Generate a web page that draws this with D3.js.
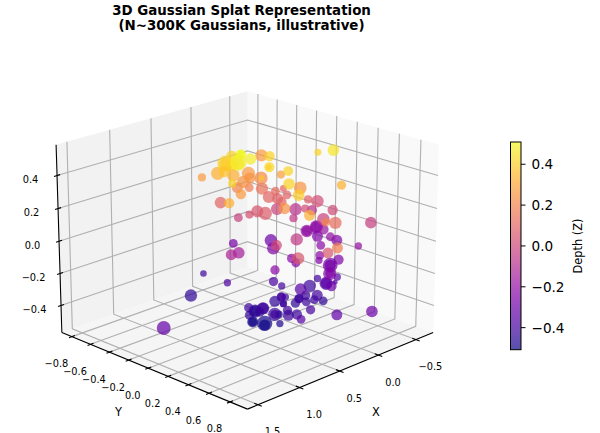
<!DOCTYPE html>
<html>
<head>
<meta charset="utf-8">
<script src="https://cdn.jsdelivr.net/npm/d3@7"></script>
<style>
  body { margin: 0; background: #fff; }
  text { font-family: "DejaVu Sans", sans-serif; fill: #000; }
</style>
</head>
<body>
<svg id="chart" width="600" height="433"></svg>
<script>
// gaussian centres
const xs = [.21,.43,.36,-.49,-.02,.54,.41,.34,.24,.08,.36,.45,.35,.30,-.03,-.01,.11,.76,-.18,.34,-.18,.17,.42,-.13,.51,
  -.50,-.23,.10,-.04,.43,.19,.86,.00,.02,-.03,.02,-.23,-.33,-.39,-.32,-.22,-.39,.37,-.73,-.49,-.44,.60,-.50,-.41,-.41,
  -.18,-.72,-.67,-.52,.22,-.08,-.79,-.82,-.74,-.95,-.82,-.05,-.62,-.86,-.78,-.91,.27,.44,-.22,.11,.23,.50,1.54,-.33,.34,
  .59,-.17,-.20,.15,-.09,-.12,-.78,.56,.31,-.61,-.41,-.40,-.54,-.47,-.22,-.50,-.39,-.49,-.31,-.15,-.36,-.04,-.18,-.16,-.06,
  .08,.00,.06,-.04,-.05,-.17,-.26,.13,.12,.05,.24,.48,.23,.22,.30,.12,.37,.33,.37,.34,.30,.42,.46,.42,.34,
  .43,.37,.34,.37,.30,.42,-.31,-.47,-.22,-.06,.08,-.74,-.95,.17,.33,.13];
const ys = [-.32,-.05,-.01,-.57,-.12,.01,-.22,-.21,.08,-.05,-.34,-.20,-.51,-.23,-.34,-.31,-.28,.13,-.33,.08,-.13,.21,.41,.10,.57,
  -.35,-.36,-.35,-.34,-.05,-.45,.18,-.42,-.29,-.25,-.13,-.29,-.30,-.23,-.27,-.15,-.33,.33,-.40,-.12,-.20,.74,-.10,.06,.21,
  .46,-.17,.02,.04,.61,.48,.31,-.30,-.29,-.35,-.18,.13,-.57,-.27,-.08,-.11,-.20,-.14,-.65,-.70,-.35,-.51,.09,-.32,.23,
  .63,-.01,.01,.07,-.13,-.07,.20,.97,.70,-.05,.09,.09,.18,.15,.33,.20,.26,.01,.23,.40,.03,.18,.24,.14,.15,
  .08,.06,.00,.13,.23,.22,.24,.14,.40,.93,.74,.58,.35,.25,.32,.09,.24,.26,.14,.10,-.01,.02,.06,.06,.07,
  -.05,.14,.10,.24,-.01,.06,.23,.15,.33,.15,.08,-.29,-.35,-.41,-.155,.14];
const zs = [.42,.51,.48,.27,.42,.49,.42,.40,.43,.38,.33,.38,.27,.33,.27,.25,.25,.42,.22,.38,.28,.42,.42,.25,.40,
  .10,.14,.20,.18,.27,.10,.33,-.02,.03,.05,.07,.10,.12,.10,.08,.10,-.01,.25,-.08,.02,-.05,.33,.08,.42,.46,
  .33,.02,.01,-.02,.20,.12,-.03,-.08,-.20,-.22,-.18,-.05,-.30,-.25,-.20,-.25,-.15,-.12,-.27,-.42,-.38,-.45,-.32,-.25,0,
  .05,-.22,-.25,-.22,-.38,-.40,-.20,.18,.05,-.22,-.22,-.25,-.25,-.28,-.25,-.35,-.35,-.40,-.35,-.30,-.42,-.35,-.40,-.42,-.42,
  -.40,-.42,-.45,-.45,-.42,-.43,-.45,-.42,-.40,-.30,-.33,-.35,-.42,-.42,-.42,-.50,-.42,-.48,-.50,-.42,-.47,-.42,-.45,-.50,-.45,
  .51,-.51,-.42,-.42,-.47,-.50,-.35,-.28,-.25,-.42,-.40,-.20,-.22,.34,.42,-.42];
const sizes = [22,22,27,31,22,56,53,25,22,7,36,25,14,32,36,25,32,14,36,7,14,20,28,34,28,
  10,31,25,16,22,28,22,16,14,30,36,30,16,16,25,18,30,27,32,14,14,25,14,10,28,
  18,32,22,32,14,32,28,22,32,36,22,32,32,25,16,25,28,25,16,9,11,32,40,32,25,
  32,18,16,18,18,11,11,25,25,16,16,11,22,45,36,11,5,11,36,22,32,28,25,18,18,
  18,11,25,18,16,16,16,11,18,28,25,16,22,18,25,11,36,11,49,32,36,18,18,25,18,
  16,25,25,16,25,16,25,25,16,16,14,20,25,36,30,10];

const xTicks = [-0.5, 0, 0.5, 1, 1.5];
const yTicks = [-0.8, -0.6, -0.4, -0.2, 0, 0.2, 0.4, 0.6, 0.8];
const zTicks = [-0.4, -0.2, 0, 0.2, 0.4];
const barTicks = [-0.4, -0.2, 0, 0.2, 0.4];

const xLim = [-0.735, 1.624];
const yLim = [-0.91, 0.964];
const zLim = [-0.57, 0.585];

const svg = d3.select('#chart');
const fmt = d => d3.format('.1f')(d).replace('-', '\u2212');

// box coordinates, same aspect as a matplotlib 3d axes
const bx = d3.scaleLinear().domain(xLim).range([-0.595, 0.595]);
const by = d3.scaleLinear().domain(yLim).range([-0.595, 0.595]);
const bz = d3.scaleLinear().domain(zLim).range([-0.446, 0.446]);
const screenX = d3.scaleLinear().domain([-0.1, 0.1]).range([23.5, 471.5]);
const screenY = d3.scaleLinear().domain([-0.1, 0.1]).range([464, 16]);

// camera at elev 20, azim 45, dist 10
function project(x, y, z) {
  const a = bx(x), b = by(y), c = bz(z);
  const xe = 0.7071 * (b - a);
  const ye = -0.2418 * (a + b) + 0.9397 * c;
  const dz = 10 - 0.6645 * (a + b) - 0.342 * c;
  return { px: screenX(xe / dz), py: screenY(ye / dz), depth: dz };
}

const [x0, x1] = xLim, [y0, y1] = yLim, [z0, z1] = zLim;
const line = d3.line().x(d => project(...d).px).y(d => project(...d).py);

// panes
const panes = [
  { fill: '#f9f9f9', pts: [[x0,y0,z0],[x0,y1,z0],[x0,y1,z1],[x0,y0,z1]] },
  { fill: '#f2f2f2', pts: [[x0,y0,z0],[x1,y0,z0],[x1,y0,z1],[x0,y0,z1]] },
  { fill: '#f5f5f5', pts: [[x0,y0,z0],[x1,y0,z0],[x1,y1,z0],[x0,y1,z0]] },
];
svg.append('g').selectAll('path').data(panes).join('path')
  .attr('d', d => line(d.pts) + 'Z')
  .attr('fill', d => d.fill);

// grid
const gridLines = [
  ...xTicks.map(t => [[t,y1,z0],[t,y0,z0],[t,y0,z1]]),
  ...yTicks.map(t => [[x1,t,z0],[x0,t,z0],[x0,t,z1]]),
  ...zTicks.map(t => [[x1,y0,t],[x0,y0,t],[x0,y1,t]]),
];
svg.append('g').selectAll('path').data(gridLines).join('path')
  .attr('d', line)
  .attr('fill', 'none')
  .attr('stroke', '#b0b0b0')
  .attr('stroke-width', 1.1);

// axis lines
const axisLines = [
  [[x1,y0,z0],[x1,y0,z1]],
  [[x1,y0,z0],[x1,y1,z0]],
  [[x1,y1,z0],[x0,y1,z0]],
];
svg.append('g').selectAll('path').data(axisLines).join('path')
  .attr('d', line)
  .attr('fill', 'none')
  .attr('stroke', '#000')
  .attr('stroke-width', 1.1);

// ticks
const tk = 0.035;
const tickLines = [
  ...xTicks.map(t => [[t,y1+tk,z0],[t,y1-tk,z0]]),
  ...yTicks.map(t => [[x1+tk,t,z0],[x1-tk,t,z0]]),
  ...zTicks.map(t => [[x1+tk,y0,t],[x1-tk,y0,t]]),
];
svg.append('g').selectAll('path').data(tickLines).join('path')
  .attr('d', line)
  .attr('stroke', '#000')
  .attr('stroke-width', 1.1);

// tick labels
function tickLabels(ticks, pos, dx, dy) {
  svg.append('g').selectAll('text').data(ticks).join('text')
    .attr('x', d => project(...pos(d)).px + dx)
    .attr('y', d => project(...pos(d)).py + dy)
    .attr('text-anchor', 'middle')
    .attr('dominant-baseline', 'central')
    .attr('font-size', 9.8)
    .text(fmt);
}
tickLabels(xTicks, t => [t, y1, z0], 14.5, 27);
tickLabels(yTicks, t => [x1, t, z0], -15.5, 27);
tickLabels(zTicks, t => [x1, y0, t], -26.5, 4);

svg.append('text').attr('x', 376).attr('y', 411.5)
  .attr('text-anchor', 'middle').attr('dominant-baseline', 'central')
  .attr('font-size', 11.4).text('X');
svg.append('text').attr('x', 118.5).attr('y', 411.5)
  .attr('text-anchor', 'middle').attr('dominant-baseline', 'central')
  .attr('font-size', 11.4).text('Y');

// splats, far ones first
const color = d3.scaleSequential(d3.interpolatePlasma).domain([-0.51, 0.51]);
const radius = d3.scaleSqrt().domain([0, 100]).range([0, 11]);
const splats = xs.map((x, i) => ({ x, y: ys[i], z: zs[i], s: sizes[i], ...project(x, ys[i], zs[i]) }));
splats.sort((a, b) => b.depth - a.depth);

svg.append('g').selectAll('circle').data(splats).join('circle')
  .attr('cx', d => d.px)
  .attr('cy', d => d.py)
  .attr('r', d => radius(d.s))
  .attr('fill', d => color(d.z))
  .attr('fill-opacity', 0.7);

// colorbar
const barY = d3.scaleLinear().domain([-0.508, 0.509]).range([349.7, 142]);
const defs = svg.append('defs');
const grad = defs.append('linearGradient').attr('id', 'bar')
  .attr('x1', 0).attr('y1', 1).attr('x2', 0).attr('y2', 0);
grad.selectAll('stop').data(d3.range(0, 1.01, 0.05)).join('stop')
  .attr('offset', d => d)
  .attr('stop-color', d => d3.interpolatePlasma(d));
svg.append('rect')
  .attr('x', 510.5).attr('y', barY(0.509))
  .attr('width', 10.5).attr('height', barY(-0.508) - barY(0.509))
  .attr('fill', 'url(#bar)')
  .attr('fill-opacity', 0.7)
  .attr('stroke', '#000')
  .attr('stroke-width', 1);
const bar = svg.append('g').selectAll('g').data(barTicks).join('g')
  .attr('transform', d => `translate(521,${barY(d)})`);
bar.append('line').attr('x2', 4.5).attr('stroke', '#000').attr('stroke-width', 1);
bar.append('text').attr('x', 10.5)
  .attr('dominant-baseline', 'central')
  .attr('font-size', 13.6)
  .text(fmt);
svg.append('text')
  .attr('transform', 'translate(578,246) rotate(-90)')
  .attr('text-anchor', 'middle')
  .attr('dominant-baseline', 'central')
  .attr('font-size', 11.4)
  .text('Depth (Z)');

// title
const title = svg.append('text').attr('text-anchor', 'middle')
  .attr('font-size', 13.4).attr('font-weight', 'bold');
title.append('tspan').attr('x', 241.5).attr('y', 15).text('3D Gaussian Splat Representation');
title.append('tspan').attr('x', 241.5).attr('y', 30).text('(N~300K Gaussians, illustrative)');
</script>
</body>
</html>
